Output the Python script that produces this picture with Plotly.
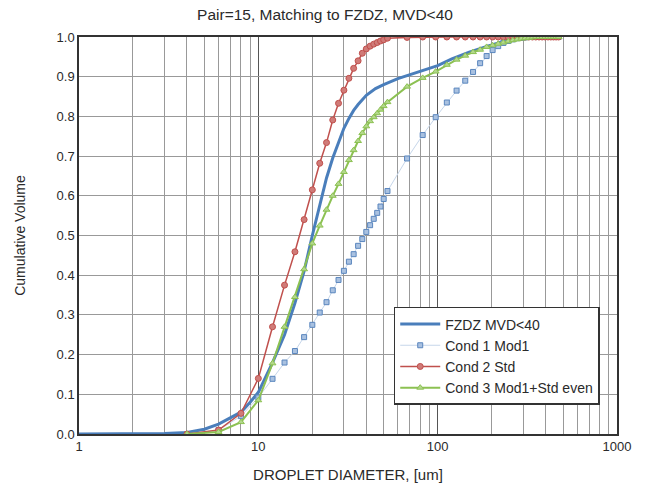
import plotly.graph_objects as go

# ---- data ----
fzdz_d = [1, 2, 3, 4, 5, 6, 7, 8, 9, 10, 12, 14, 16, 18, 20, 22, 24, 26, 28, 30, 32, 34, 36, 38, 40,
          45, 50, 60, 70, 80, 100, 120, 150, 190, 230, 290, 350, 400, 472.5]
fzdz_v = [0, 0, 0.001, 0.004, 0.012, 0.025, 0.04, 0.055, 0.08, 0.105, 0.18, 0.25, 0.33, 0.41, 0.5,
          0.58, 0.645, 0.695, 0.735, 0.77, 0.795, 0.815, 0.83, 0.843, 0.853,
          0.87, 0.88, 0.895, 0.905, 0.913, 0.928, 0.945, 0.962, 0.977, 0.988, 0.995, 0.999, 1.0, 1.0]

bins = [4, 6, 8, 10, 12, 14, 16, 18, 20, 22, 24, 26, 28, 30, 32, 34, 36, 38, 40, 42, 44, 46, 48, 50,
        52.5, 67.5, 82.5, 97.5, 112.5, 127.5, 142.5, 157.5, 172.5, 187.5, 202.5, 217.5, 232.5,
        247.5, 262.5, 277.5, 292.5, 307.5, 322.5, 337.5, 352.5, 367.5, 382.5, 397.5, 412.5,
        427.5, 442.5, 457.5, 472.5]

cond1 = [0, 0.01, 0.045, 0.092, 0.139, 0.18, 0.209, 0.244, 0.275, 0.306, 0.332, 0.362, 0.388, 0.411,
         0.434, 0.453, 0.474, 0.491, 0.509, 0.526, 0.542, 0.557, 0.573, 0.592,
         0.612, 0.694, 0.753, 0.798, 0.835, 0.865, 0.89, 0.912, 0.934, 0.952, 0.967, 0.977, 0.985,
         0.99, 0.994, 0.997, 0.998, 0.999, 1.0, 1.0, 1.0, 1.0, 1.0, 1.0, 1.0,
         1.0, 1.0, 1.0, 1.0]

cond2 = [0, 0.01, 0.052, 0.14, 0.27, 0.375, 0.459, 0.54, 0.615, 0.682, 0.734, 0.791, 0.833, 0.866,
         0.896, 0.921, 0.94, 0.959, 0.97, 0.977, 0.982, 0.986, 0.99, 0.993,
         0.997, 0.999, 1.0, 1.0, 1.0, 1.0, 1.0, 1.0, 1.0, 1.0, 1.0, 1.0, 1.0,
         1.0, 1.0, 1.0, 1.0, 1.0, 1.0, 1.0, 1.0, 1.0, 1.0, 1.0, 1.0,
         1.0, 1.0, 1.0, 1.0]

cond3 = [0, 0.005, 0.03, 0.085, 0.178, 0.27, 0.345, 0.415, 0.48, 0.525, 0.565, 0.6, 0.63, 0.66,
         0.69, 0.715, 0.738, 0.758, 0.775, 0.788, 0.798, 0.808, 0.817, 0.826,
         0.836, 0.875, 0.897, 0.913, 0.93, 0.943, 0.953, 0.962, 0.968, 0.975, 0.979, 0.983, 0.986,
         0.989, 0.992, 0.994, 0.996, 0.997, 0.998, 0.999, 1.0, 1.0, 1.0, 1.0, 1.0,
         1.0, 1.0, 1.0, 1.0]

y_ticks = [0.0, 0.1, 0.2, 0.3, 0.4, 0.5, 0.6, 0.7, 0.8, 0.9, 1.0]
x_ticks = [1, 10, 100, 1000]

FONT = "Liberation Sans, Arial, sans-serif"
TXT = "#2a2a2a"

fig = go.Figure()
fig.add_trace(go.Scatter(x=fzdz_d, y=fzdz_v, mode="lines", name="FZDZ MVD<40",
                         line=dict(color="#4a7ebb", width=3)))
fig.add_trace(go.Scatter(x=bins, y=cond1, mode="lines+markers", name="Cond 1 Mod1",
                         line=dict(color="#c6d6ea", width=1),
                         marker=dict(symbol="square", size=5, color="#a9c1e0",
                                     line=dict(color="#5a86be", width=1))))
fig.add_trace(go.Scatter(x=bins, y=cond2, mode="lines+markers", name="Cond 2 Std",
                         line=dict(color="#c0504d", width=1.5),
                         marker=dict(symbol="circle", size=6, color="#d07b78",
                                     line=dict(color="#c0504d", width=1))))
fig.add_trace(go.Scatter(x=bins, y=cond3, mode="lines+markers", name="Cond 3 Mod1+Std even",
                         line=dict(color="#8cc152", width=2),
                         marker=dict(symbol="triangle-up", size=6, color="#b3d88c",
                                     line=dict(color="#8cc152", width=1))))

fig.update_layout(
    width=650, height=484,
    margin=dict(l=79, r=33, t=37, b=50),
    paper_bgcolor="white", plot_bgcolor="white",
    font=dict(family=FONT, size=13, color=TXT),
    title=dict(text="Pair=15, Matching to FZDZ, MVD<40", x=0.5, xanchor="center",
               y=1 - 15 / 484, yanchor="middle", font=dict(size=15.5, color=TXT)),
    showlegend=True,
    legend=dict(x=0.585, y=0.32, xanchor="left", yanchor="top",
                bgcolor="white", bordercolor="#333333", borderwidth=1.5,
                font=dict(size=14, color=TXT), tracegroupgap=0,
                itemwidth=40),
)

fig.update_xaxes(type="log", range=[0, 3], tickvals=x_ticks, ticktext=[str(v) for v in x_ticks],
                 showgrid=True, gridcolor="#555555", gridwidth=1,
                 minor=dict(showgrid=True, gridcolor="#999999", gridwidth=1, dtick="D1"),
                 showline=True, linecolor="#333333", linewidth=1.5, mirror=True,
                 ticks="", tickfont=dict(size=13), automargin=False,
                 title=dict(text="DROPLET DIAMETER, [um]", font=dict(size=15), standoff=16))
fig.update_yaxes(range=[0, 1.0], tickvals=y_ticks, tickformat=".1f",
                 showgrid=True, gridcolor="#999999", gridwidth=1,
                 showline=True, linecolor="#333333", linewidth=1.5, mirror=True,
                 ticks="", tickfont=dict(size=13), zeroline=False, automargin=False,
                 title=dict(text="Cumulative Volume", font=dict(size=14), standoff=28))

fig.write_html("out.html", config={"displayModeBar": False},
               post_script="document.body.style.margin='0';")
